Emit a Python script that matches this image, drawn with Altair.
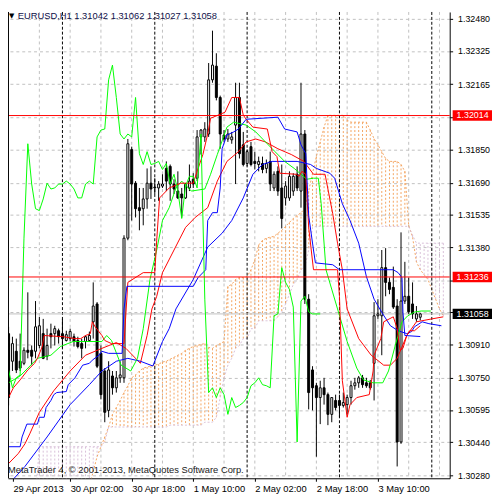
import altair as alt
import pandas as pd

# ---------------- data (EURUSD H1, bar 0 = 29 Apr 2013 10:00) ----------------
opens = [
    1.30963, 1.30830, 1.30878, 1.30830, 1.30820, 1.30883, 1.30883, 1.30878, 1.30906, 1.30963,
    1.30854, 1.30963, 1.30963, 1.30977, 1.30963, 1.30930, 1.30939, 1.30948, 1.30930, 1.30915,
    1.30925, 1.30930, 1.31020, 1.31106, 1.30868, 1.30783, 1.30593, 1.30759, 1.30702, 1.30750,
    1.30750, 1.31423, 1.31850, 1.31688, 1.31570, 1.31565, 1.31612, 1.31688, 1.31669, 1.31665,
    1.31674, 1.31759, 1.31769, 1.31684, 1.31650, 1.31636, 1.31617, 1.31665, 1.31707, 1.31712,
    1.31911, 1.31911, 1.31925, 1.32186, 1.32252, 1.32101, 1.31920, 1.31901, 1.31897, 1.31968,
    1.32101, 1.31873, 1.31783, 1.31864, 1.31793, 1.31778, 1.31783, 1.31759, 1.31793, 1.31665,
    1.31745, 1.31665, 1.31617, 1.31617, 1.31650, 1.31731, 1.31650, 1.31925, 1.31129, 1.30788,
    1.30712, 1.30655, 1.30702, 1.30669, 1.30574, 1.30641, 1.30641, 1.30617, 1.30621, 1.30655,
    1.30712, 1.30726, 1.30750, 1.30726, 1.30726, 1.30820, 1.31049, 1.31049, 1.31281, 1.31210,
    1.31186, 1.31096, 1.30441, 1.31120, 1.31143, 1.31106, 1.31034, 1.31042]
highs = [
    1.30996, 1.30948, 1.30939, 1.30963, 1.30897, 1.31162, 1.30906, 1.31120, 1.31044, 1.31034,
    1.30987, 1.31011, 1.31001, 1.30987, 1.31034, 1.30977, 1.30987, 1.30963, 1.30948, 1.30939,
    1.30954, 1.30973, 1.31210, 1.31115, 1.30906, 1.30797, 1.30830, 1.30783, 1.30783, 1.30830,
    1.31437, 1.31901, 1.31864, 1.31698, 1.31665, 1.31665, 1.31759, 1.31769, 1.31712, 1.31698,
    1.31731, 1.31793, 1.31778, 1.31707, 1.31745, 1.31665, 1.31688, 1.31778, 1.31736, 1.31944,
    1.31949, 1.31982, 1.32267, 1.32423, 1.32314, 1.32110, 1.31944, 1.31949, 1.31935, 1.32172,
    1.32172, 1.31935, 1.31850, 1.31887, 1.31840, 1.31816, 1.31816, 1.31802, 1.31840, 1.31745,
    1.31769, 1.31778, 1.31698, 1.31745, 1.31736, 1.31769, 1.32172, 1.31944, 1.31153, 1.30806,
    1.30726, 1.30736, 1.30750, 1.30679, 1.30655, 1.30669, 1.30669, 1.30679, 1.30669, 1.30736,
    1.30750, 1.30759, 1.30764, 1.30750, 1.30740, 1.31115, 1.31129, 1.31366, 1.31375, 1.31233,
    1.31286, 1.31129, 1.31451, 1.31309, 1.31233, 1.31210, 1.31096, 1.31062]
lows = [
    1.30617, 1.30783, 1.30773, 1.30783, 1.30811, 1.30844, 1.30811, 1.30844, 1.30892, 1.30840,
    1.30835, 1.30892, 1.30906, 1.30915, 1.30892, 1.30925, 1.30925, 1.30901, 1.30892, 1.30844,
    1.30892, 1.30925, 1.30939, 1.30797, 1.30646, 1.30536, 1.30560, 1.30669, 1.30679, 1.30726,
    1.30726, 1.31413, 1.31508, 1.31523, 1.31461, 1.31485, 1.31565, 1.31612, 1.31636, 1.31603,
    1.31665, 1.31650, 1.31603, 1.31636, 1.31612, 1.31523, 1.31612, 1.31650, 1.31665, 1.31698,
    1.31826, 1.31887, 1.31911, 1.32172, 1.32087, 1.31854, 1.31887, 1.31887, 1.31878, 1.31684,
    1.31807, 1.31769, 1.31769, 1.31769, 1.31754, 1.31745, 1.31736, 1.31736, 1.31650, 1.31650,
    1.31627, 1.31470, 1.31580, 1.31603, 1.31627, 1.31650, 1.31570, 1.31106, 1.30598, 1.30593,
    1.30370, 1.30527, 1.30621, 1.30522, 1.30536, 1.30593, 1.30560, 1.30607, 1.30574, 1.30621,
    1.30693, 1.30702, 1.30702, 1.30702, 1.30693, 1.30641, 1.31034, 1.30859, 1.31143, 1.31153,
    1.31082, 1.30323, 1.30432, 1.31106, 1.31058, 1.31034, 1.31020, 1.31027]
closes = [
    1.30655, 1.30915, 1.30788, 1.30797, 1.30883, 1.30873, 1.30854, 1.30996, 1.31001, 1.30844,
    1.30906, 1.30948, 1.30987, 1.30948, 1.30939, 1.30958, 1.30973, 1.30925, 1.30901, 1.30892,
    1.30948, 1.30954, 1.31096, 1.30806, 1.30669, 1.30584, 1.30788, 1.30702, 1.30750, 1.30764,
    1.31423, 1.31878, 1.31684, 1.31565, 1.31556, 1.31612, 1.31688, 1.31660, 1.31665, 1.31684,
    1.31684, 1.31698, 1.31684, 1.31660, 1.31617, 1.31617, 1.31684, 1.31698, 1.31684, 1.31911,
    1.31944, 1.31949, 1.32186, 1.32257, 1.32101, 1.31925, 1.31901, 1.31925, 1.31911, 1.32101,
    1.31830, 1.31778, 1.31840, 1.31778, 1.31783, 1.31793, 1.31754, 1.31783, 1.31684, 1.31731,
    1.31650, 1.31518, 1.31674, 1.31721, 1.31721, 1.31665, 1.31925, 1.31129, 1.30679, 1.30702,
    1.30655, 1.30702, 1.30669, 1.30574, 1.30655, 1.30607, 1.30617, 1.30631, 1.30655, 1.30712,
    1.30726, 1.30750, 1.30717, 1.30712, 1.30702, 1.31049, 1.31058, 1.31281, 1.31210, 1.31176,
    1.31091, 1.30441, 1.31120, 1.31143, 1.31068, 1.31058, 1.31058, 1.31058]

# Ichimoku cloud (Senkou span A / B), one value per bar 0..113
senkou_a = [
    1.30181, 1.30181, 1.30181, 1.30181, 1.30181, 1.30181, 1.30181, 1.30181, 1.30181, 1.30181,
    1.30181, 1.30181, 1.30181, 1.30181, 1.30181, 1.30181, 1.30181, 1.30181, 1.30181, 1.30181,
    1.30181, 1.30228, 1.30299, 1.30370, 1.30418, 1.30465, 1.30513, 1.30574, 1.30607, 1.30641,
    1.30679, 1.30712, 1.30750, 1.30764, 1.30783, 1.30797, 1.30802, 1.30807, 1.30811, 1.30816,
    1.30826, 1.30830, 1.30840, 1.30849, 1.30859, 1.30868, 1.30883, 1.30892, 1.30901, 1.30906,
    1.30911, 1.30915, 1.30897, 1.30892, 1.30906, 1.30915, 1.30925, 1.31191, 1.31200, 1.31224,
    1.31233, 1.31233, 1.31238, 1.31271, 1.31319, 1.31390, 1.31413, 1.31423, 1.31428, 1.31432,
    1.31447, 1.31461, 1.31480, 1.31499, 1.31518, 1.31532, 1.31546, 1.31565, 1.31650, 1.31736,
    1.31816, 1.31887, 1.31958, 1.32015, 1.32015, 1.32015, 1.32015, 1.32015, 1.31992, 1.31982,
    1.31982, 1.31982, 1.31982, 1.31982, 1.31944, 1.31902, 1.31873, 1.31840, 1.31807, 1.31793,
    1.31793, 1.31793, 1.31778, 1.31745, 1.31485, 1.31428, 1.31309, 1.31271, 1.31247, 1.31224,
    1.31176, 1.31129, 1.31082, 1.31048]
senkou_b = [
    1.30181, 1.30181, 1.30181, 1.30181, 1.30181, 1.30181, 1.30181, 1.30181, 1.30418, 1.30418,
    1.30418, 1.30418, 1.30418, 1.30418, 1.30418, 1.30418, 1.30418, 1.30418, 1.30418, 1.30418,
    1.30418, 1.30418, 1.30418, 1.30418, 1.30418, 1.30442, 1.30513, 1.30513, 1.30513, 1.30513,
    1.30513, 1.30513, 1.30513, 1.30513, 1.30513, 1.30513, 1.30513, 1.30513, 1.30513, 1.30513,
    1.30513, 1.30513, 1.30522, 1.30522, 1.30522, 1.30522, 1.30522, 1.30522, 1.30522, 1.30522,
    1.30522, 1.30536, 1.30536, 1.30536, 1.30560, 1.30655, 1.30750, 1.30811, 1.30844, 1.30892,
    1.30906, 1.30939, 1.30939, 1.30987, 1.30987, 1.31025, 1.31025, 1.31025, 1.31025, 1.31025,
    1.31044, 1.31067, 1.31106, 1.31153, 1.31200, 1.31224, 1.31271, 1.31285, 1.31366, 1.31475,
    1.31480, 1.31480, 1.31480, 1.31480, 1.31480, 1.31480, 1.31480, 1.31480, 1.31480, 1.31480,
    1.31480, 1.31480, 1.31480, 1.31480, 1.31480, 1.31480, 1.31480, 1.31480, 1.31480, 1.31480,
    1.31480, 1.31480, 1.31480, 1.31480, 1.31480, 1.31437, 1.31399, 1.31399, 1.31399, 1.31399,
    1.31399, 1.31399, 1.31399, 1.31399]

tenkan_bar = [0, 1.25, 3, 5, 6.75, 7.5, 8.75, 9.25, 14.25, 17.25, 18.75, 20, 21.25, 21.75, 22.5,
              24.25, 25, 26.75, 30, 31, 35, 38, 38.5, 39.25, 41.75, 44.75, 48, 49.25, 50.5, 51.75,
              52.5, 55, 56.25, 58, 60, 61, 61.75, 63.5, 67.25, 68.5, 69.75, 70.5, 74.75, 75.5, 76.25,
              77.25, 78, 79.25, 85.5, 86, 86.75, 88, 88.75, 90.5, 93.75, 94.75, 95, 96.75, 97.5, 100,
              101, 101.75, 102.5, 103.5, 104.25, 105.5, 107]
tenkan_val = [1.30655, 1.30702, 1.30740, 1.30788, 1.30820, 1.30844, 1.30901, 1.30954, 1.30948, 1.30939,
              1.30939, 1.30954, 1.30963, 1.31020, 1.30996, 1.30954, 1.30930, 1.30915, 1.30915, 1.31210,
              1.31257, 1.31257, 1.31413, 1.31617, 1.31665, 1.31688, 1.31688, 1.31759, 1.31826, 1.31925,
              1.32001, 1.32020, 1.32030, 1.32101, 1.32101, 1.32016, 1.31996, 1.31958, 1.31949, 1.31840,
              1.31816, 1.31736, 1.31731, 1.31721, 1.31745, 1.31731, 1.31475, 1.31271, 1.31271, 1.31143,
              1.30736, 1.30560, 1.30621, 1.30655, 1.30669, 1.30783, 1.30859, 1.30939, 1.31020, 1.31044,
              1.30987, 1.30882, 1.30892, 1.30954, 1.30977, 1.30977, 1.31001]

kijun_bar = [0, 3, 3.5, 4.75, 7.5, 8, 9.25, 9.75, 11, 11.75, 12.5, 15, 15.5, 17.25, 18, 19.25, 21,
             21.75, 23.5, 24.25, 26, 29.5, 30, 30.75, 48, 49.25, 51.25, 51.75, 53, 54.25, 55, 55.5,
             56.75, 58.5, 59.75, 61.75, 70, 71.75, 75, 76, 77.25, 78, 79.25, 79.75, 84.25, 86, 100,
             101.25, 102.25, 102.5, 103, 107]
kijun_val = [1.30418, 1.30418, 1.30465, 1.30527, 1.30527, 1.30560, 1.30560, 1.30607, 1.30641, 1.30669,
             1.30679, 1.30684, 1.30717, 1.30750, 1.30773, 1.30811, 1.30820, 1.30835, 1.30859, 1.30878,
             1.30868, 1.30868, 1.31082, 1.31191, 1.31191, 1.31233, 1.31271, 1.31508, 1.31546, 1.31546,
             1.31665, 1.31854, 1.31920, 1.31935, 1.31949, 1.31996, 1.32006, 1.31949, 1.31935, 1.31873,
             1.31830, 1.31532, 1.31366, 1.31304, 1.31295, 1.31271, 1.31271, 1.31257, 1.31233, 1.31067,
             1.30954, 1.30949]

ma_red_bar = [0, 2.5, 4.25, 5.5, 8, 11.75, 16, 20, 24.25, 28, 30.5, 34.25, 36, 37.25, 38.5, 40, 43,
              46, 48.5, 51.75, 54.25, 56.75, 59.75, 61.75, 64.25, 66.75, 70, 73.5, 76.75, 79.25,
              82.25, 84.25, 85.5, 86.75, 88, 91, 94.25, 97.5, 99.25, 101, 103.5, 106, 110, 113]
ma_red_val = [1.30337, 1.30385, 1.30432, 1.30480, 1.30584, 1.30688, 1.30783, 1.30859, 1.30892, 1.30920,
              1.30892, 1.30820, 1.30954, 1.31082, 1.31143, 1.31257, 1.31366, 1.31475, 1.31523, 1.31570,
              1.31698, 1.31793, 1.31840, 1.31887, 1.31901, 1.31887, 1.31854, 1.31826, 1.31793, 1.31731,
              1.31731, 1.31541, 1.31399, 1.31271, 1.31082, 1.30939, 1.30859, 1.30811, 1.30811, 1.30844,
              1.30954, 1.31020, 1.31034, 1.31044]

ma_blue_bar = [1.25, 4.25, 10, 16, 21, 24.25, 28, 31, 34.25, 37.5, 40, 41.75, 43.5, 48, 51.75, 55.5,
               58, 61, 63.5, 66, 68.5, 72.5, 75, 78.5, 80, 83.5, 84.75, 86.75, 88.75, 91, 93, 95, 97.25,
               99.25, 101.25, 103.5, 104.75, 105.5, 107.5, 109.25, 112.5]
ma_blue_val = [1.30262, 1.30323, 1.30465, 1.30621, 1.30717, 1.30783, 1.30830, 1.30844, 1.30830, 1.30807,
               1.30925, 1.30987, 1.31082, 1.31224, 1.31380, 1.31447, 1.31508, 1.31617, 1.31731, 1.31778,
               1.31793, 1.31793, 1.31793, 1.31778, 1.31759, 1.31736, 1.31712, 1.31589, 1.31508, 1.31399,
               1.31238, 1.31129, 1.31058, 1.31001, 1.30977, 1.30963, 1.30973, 1.30996, 1.31020, 1.31011,
               1.31001]

ma_green_bar = [0, 3, 7.5, 11, 13.5, 16.75, 20, 24.25, 25.5, 26.75, 29.25, 31.75, 33.5, 35, 36.75,
                38.5, 40, 41.75, 43.5, 45, 47.5, 51, 52.5, 54.25, 56.75, 58.5, 61.75, 64.25, 66.75,
                69.25, 71.75, 74.25, 76, 77.5, 79.25, 80.5, 81.25, 82.5, 85.5, 88, 90.5, 92.25, 94.75,
                97.25, 98.75, 100.5, 102.25, 103.75, 105.5, 107.25, 109.75]
ma_green_val = [1.30726, 1.30759, 1.30844, 1.30859, 1.30901, 1.30925, 1.30925, 1.30925, 1.30954, 1.30930,
                1.30811, 1.30783, 1.30844, 1.30987, 1.31224, 1.31366, 1.31508, 1.31570, 1.31665, 1.31698,
                1.31650, 1.31660, 1.31731, 1.31826, 1.31958, 1.31982, 1.31968, 1.31935, 1.31887, 1.31840,
                1.31793, 1.31759, 1.31731, 1.31707, 1.31712, 1.31712, 1.31589, 1.31271, 1.31082, 1.30925,
                1.30797, 1.30740, 1.30726, 1.30726, 1.30783, 1.30906, 1.31020, 1.31049, 1.31067, 1.31072,
                1.31072]

chikou_shift = 26
level_prices = [1.32014, 1.31236]
bid_price = 1.31058
tag_prices = [1.32014, 1.31236, 1.31058]
tag_labels = ["1.32014", "1.31236", "1.31058"]
tag_colors = ["#ff0000", "#ff0000", "#000000"]

y_ticks = [1.32480, 1.32325, 1.32165, 1.32005, 1.31850, 1.31690, 1.31535, 1.31380,
           1.31220, 1.31065, 1.30910, 1.30750, 1.30595, 1.30440, 1.30280]
y_hidden = ["1.32005", "1.31220", "1.31065"]
x_tick_bars = [1.125, 16, 32, 48, 64, 80, 96]
x_tick_text = ["29 Apr 2013", "30 Apr 02:00", "30 Apr 18:00", "1 May 10:00",
               "2 May 02:00", "2 May 18:00", "3 May 10:00"]
grid_bars = [8, 16, 24, 32, 40, 48, 56, 64, 72, 80, 88, 96, 104, 112]
day_sep_bars = [14, 38, 62, 86, 110]

title_text = "EURUSD,H1  1.31042 1.31062 1.31027 1.31058"
copyright_text = "MetaTrader 4, \u00a9 2001-2013, MetaQuotes Software Corp."

# ---------------- chart ----------------
W, H = 449, 474
FONT = "Liberation Sans"
XS = alt.Scale(domain=[1.125, 113.375], nice=False, zero=False)
YS = alt.Scale(domain=[1.30266, 1.32513], nice=False, zero=False)

x_label_expr = "".join(f"abs(datum.value - {v}) < 0.01 ? '{t}' : "
                       for v, t in zip(x_tick_bars, x_tick_text)) + "''"
y_label_expr = ("indexof(" + str(y_hidden) + ", format(datum.value, '.5f')) >= 0 ? '' : "
                "format(datum.value, '.5f')")

X_AXIS = alt.Axis(orient="bottom", values=x_tick_bars, labelExpr=x_label_expr, grid=False,
                  tickSize=3, tickColor="black", domainColor="black", labelAlign="left",
                  labelBaseline="top", labelPadding=2, labelFont=FONT, labelFontSize=9.5,
                  labelColor="black", title=None, labelOverlap=False, labelFlush=False)
Y_AXIS = alt.Axis(orient="right", values=y_ticks, labelExpr=y_label_expr, grid=True,
                  gridColor="#c0c0c0", gridDash=[3, 3], gridWidth=1, tickColor="black",
                  tickSize=3, domainColor="black", labelFont=FONT, labelFontSize=9,
                  labelColor="black", labelPadding=5, title=None, labelOverlap=False)


def X(f):
    return alt.X(f, type="quantitative", scale=XS, axis=X_AXIS)


def Y(f):
    return alt.Y(f, type="quantitative", scale=YS, axis=Y_AXIS)


n = len(closes)
candles = pd.DataFrame({"bar": list(range(n)), "open": opens, "high": highs,
                        "low": lows, "close": closes})
candles["dir"] = ["bull" if c >= o else "bear" for o, c in zip(opens, closes)]

cloud = pd.DataFrame({"bar": list(range(len(senkou_a))), "a": senkou_a, "b": senkou_b})
cloud["kind"] = ["up" if a >= b else "down" for a, b in zip(senkou_a, senkou_b)]

chikou = pd.DataFrame({"bar": [i - chikou_shift for i in range(chikou_shift, n)],
                       "v": closes[chikou_shift:]})

vgrid = alt.Chart(pd.DataFrame({"bar": grid_bars})).mark_rule(
    color="#c0c0c0", strokeDash=[3, 3], strokeWidth=1).encode(
    x=X("bar"), y=alt.value(0), y2=alt.value(H))

hatch = alt.Chart(cloud).mark_rule(strokeDash=[2, 2], strokeWidth=1, clip=True).encode(
    x=X("bar"), y=Y("a"), y2="b:Q",
    color=alt.Color("kind:N", scale=alt.Scale(domain=["up", "down"],
                                              range=["#F4A460", "#D8BFD8"]), legend=None))
span_a = alt.Chart(cloud).mark_line(color="#F4A460", strokeDash=[2, 2], strokeWidth=1,
                                    clip=True).encode(x=X("bar"), y=Y("a"))
span_b = alt.Chart(cloud).mark_line(color="#D8BFD8", strokeDash=[2, 2], strokeWidth=1,
                                    clip=True).encode(x=X("bar"), y=Y("b"))

seps = alt.Chart(pd.DataFrame({"bar": day_sep_bars})).mark_rule(
    color="black", strokeDash=[3, 2], strokeWidth=1).encode(
    x=X("bar"), y=alt.value(0), y2=alt.value(H))

bid = alt.Chart(pd.DataFrame({"p": [bid_price]})).mark_rule(
    color="#c0c0c0", strokeWidth=1).encode(y=Y("p"))

wicks = alt.Chart(candles).mark_rule(color="black", strokeWidth=1, clip=True).encode(
    x=X("bar"), y=Y("low"), y2="high:Q")
bodies = alt.Chart(candles).mark_bar(width=2, stroke="black", strokeWidth=1, clip=True).encode(
    x=X("bar"), y=Y("open"), y2="close:Q",
    fill=alt.Fill("dir:N", scale=alt.Scale(domain=["bull", "bear"], range=["white", "black"]),
                  legend=None))


def line(bars, vals, color):
    df = pd.DataFrame({"bar": bars, "v": vals})
    return alt.Chart(df).mark_line(color=color, strokeWidth=1, clip=True).encode(
        x=X("bar"), y=Y("v"))


ma_red = line(ma_red_bar, ma_red_val, "#ff0000")
ma_blue = line(ma_blue_bar, ma_blue_val, "#0000ff")
ma_green = line(ma_green_bar, ma_green_val, "#00ff00")
tenkan = line(tenkan_bar, tenkan_val, "#ff0000")
kijun = line(kijun_bar, kijun_val, "#0000ff")
chik = alt.Chart(chikou).mark_line(color="#00ff00", strokeWidth=1, clip=True).encode(
    x=X("bar"), y=Y("v"))

levels = alt.Chart(pd.DataFrame({"p": level_prices})).mark_rule(
    color="#ff0000", strokeWidth=1).encode(y=Y("p"))

tags = pd.DataFrame({"p": tag_prices, "label": tag_labels, "bg": tag_colors})
tags["lo"] = tags["p"] - 0.00025
tags["hi"] = tags["p"] + 0.00025
tag_box = alt.Chart(tags).mark_rect().encode(
    x=alt.value(452), x2=alt.value(492), y=Y("lo"), y2="hi:Q",
    color=alt.Color("bg:N", scale=None))
tag_txt = alt.Chart(tags).mark_text(align="left", baseline="middle", font=FONT, fontSize=9,
                                    color="white").encode(
    x=alt.value(456), y=Y("p"), text="label:N")

frame_left = alt.Chart(pd.DataFrame({"k": [0]})).mark_rule(color="black", strokeWidth=1).encode(
    x=alt.value(0.5), y=alt.value(0), y2=alt.value(H))

title_mark = alt.Chart(pd.DataFrame({"t": [title_text]})).mark_text(
    align="left", baseline="middle", font=FONT, fontSize=9.5, color="#10104a").encode(
    x=alt.value(10), y=alt.value(4), text="t:N")
tri_mark = alt.Chart(pd.DataFrame({"t": ["\u25bc"]})).mark_text(
    align="left", baseline="middle", font="DejaVu Sans", fontSize=7, color="black").encode(
    x=alt.value(1), y=alt.value(4), text="t:N")
copy_mark = alt.Chart(pd.DataFrame({"t": [copyright_text]})).mark_text(
    align="left", baseline="middle", font=FONT, fontSize=9.5, color="#1a1a1a").encode(
    x=alt.value(0), y=alt.value(466), text="t:N")

chart = alt.layer(
    vgrid, hatch, span_a, span_b, seps, bid, wicks, bodies,
    ma_red, ma_blue, ma_green, tenkan, kijun, chik, levels,
    tag_box, tag_txt, frame_left, title_mark, tri_mark, copy_mark
).properties(
    width=W, height=H,
    autosize=alt.AutoSizeParams(type="none"),
    padding={"left": 0, "top": 0, "right": 43, "bottom": 16},
    background="white",
).configure_view(stroke=None)

chart.save("out.html", embed_options={"renderer": "svg", "actions": False})
